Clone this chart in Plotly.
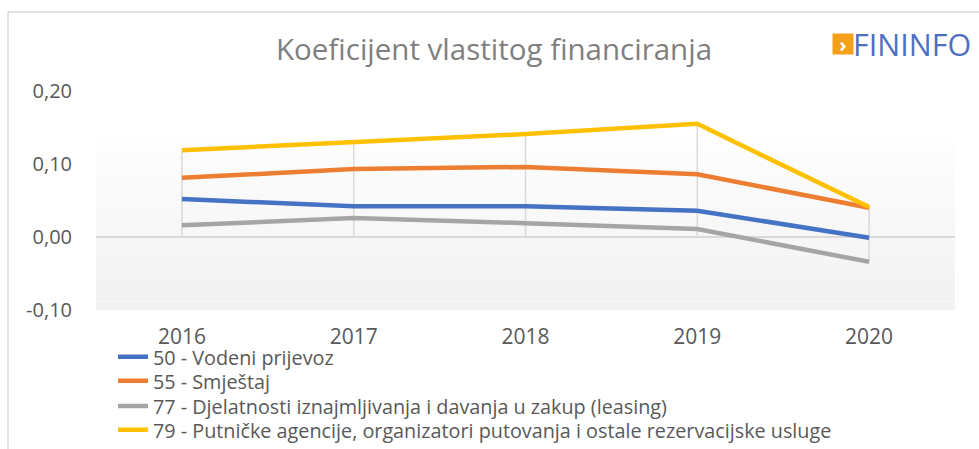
"""Koeficijent vlastitog financiranja - line chart recreation."""
import plotly.graph_objects as go

years = ["2016", "2017", "2018", "2019", "2020"]

vodeni_prijevoz = [0.052, 0.042, 0.042, 0.036, -0.001]
smjestaj = [0.081, 0.093, 0.096, 0.086, 0.040]
leasing = [0.016, 0.026, 0.019, 0.011, -0.034]
putnicke_agencije = [0.119, 0.130, 0.141, 0.155, 0.041]

series_names = [
    "50 - Vodeni prijevoz",
    "55 - Smještaj",
    "77 - Djelatnosti iznajmljivanja i davanja u zakup (leasing)",
    "79 - Putničke agencije, organizatori putovanja i ostale rezervacijske usluge",
]
colors = ["#4472C4", "#ED7D31", "#A5A5A5", "#FFC000"]

y_ticks = [-0.1, 0.0, 0.1, 0.2]
y_tick_labels = ["-0,10", "0,00", "0,10", "0,20"]

all_series = [vodeni_prijevoz, smjestaj, leasing, putnicke_agencije]

fig = go.Figure()

# drop lines (Excel style): from the highest point down to the axis / lowest point
drop_x, drop_y = [], []
for i, yr in enumerate(years):
    vals = [s[i] for s in all_series]
    drop_x += [yr, yr, None]
    drop_y += [max(max(vals), 0), min(min(vals), 0), None]
fig.add_trace(go.Scatter(x=drop_x, y=drop_y, mode="lines", showlegend=False,
                         line=dict(color="#d9d9d9", width=1.5), hoverinfo="skip"))

# one legend per series so the rows can sit as tight as in the original
legend_ids = ["legend", "legend2", "legend3", "legend4"]
for name, vals, col, lg in zip(series_names, all_series, colors, legend_ids):
    fig.add_trace(go.Scatter(x=years, y=vals, mode="lines", name=name, legend=lg,
                             line=dict(color=col, width=4.5)))

# light vertical gradient behind the plot area
shapes = []
steps = 40
top = 0.785
for k in range(steps):
    y0 = top * k / steps
    y1 = top * (k + 1) / steps
    shade = int(241 + (254 - 241) * (k / (steps - 1)))
    shapes.append(dict(type="rect", xref="paper", yref="paper", x0=0, x1=1, y0=y0, y1=y1,
                       fillcolor=f"rgb({shade},{shade},{shade})", line=dict(width=0),
                       layer="below"))
# outer chart border
shapes.append(dict(type="rect", xref="paper", yref="paper", x0=-0.1024, x1=1.06,
                   y0=-0.7, y1=1.3607, line=dict(color="#d9d9d9", width=1.5),
                   fillcolor="rgba(0,0,0,0)", layer="below"))

legend_rows = [-0.2146, -0.3242, -0.4384, -0.5479]
legend_style = dict(x=0.0198, xanchor="left", yanchor="middle",
                    font=dict(size=19.8, color="#595959"), bgcolor="rgba(0,0,0,0)",
                    itemwidth=30)
legends = {lg: dict(y=row, **legend_style) for lg, row in zip(legend_ids, legend_rows)}

fig.update_layout(
    width=979, height=449,
    margin=dict(l=96, r=24, t=91, b=139, autoexpand=False),
    paper_bgcolor="white", plot_bgcolor="rgba(0,0,0,0)",
    font=dict(family="Open Sans", color="#595959"),
    shapes=shapes,
    showlegend=True,
    **legends,
    annotations=[
        dict(text="Koeficijent vlastitog financiranja", xref="paper", yref="paper",
             x=0.463, y=1.195, xanchor="center", yanchor="middle", showarrow=False,
             font=dict(size=29.5, color="#7f7f7f")),
        dict(text="<b>›</b>", xref="paper", yref="paper", x=0.8696, y=1.215,
             xanchor="center", yanchor="middle", showarrow=False, bgcolor="#F5A01A",
             width=20, height=20, borderpad=0, font=dict(size=20, color="white")),
        dict(text="FININFO", xref="paper", yref="paper", x=0.8795, y=1.215,
             xanchor="left", yanchor="middle", showarrow=False,
             font=dict(size=30.5, color="#4F6FBF")),
    ],
)

fig.update_xaxes(type="category", range=[-0.5, 4.5], showgrid=False, showline=False,
                 ticks="", tickfont=dict(size=21, color="#595959"), ticklabelstandoff=12)
fig.update_yaxes(range=[-0.1, 0.2], tickvals=y_ticks, ticktext=y_tick_labels,
                 showgrid=False, zeroline=True, zerolinecolor="#d9d9d9", zerolinewidth=1.5,
                 showline=False, ticks="", tickfont=dict(size=20, color="#595959"),
                 ticklabelstandoff=23)

fig.write_html("out.html", config={"displayModeBar": False},
               post_script="document.body.style.margin='0';")
